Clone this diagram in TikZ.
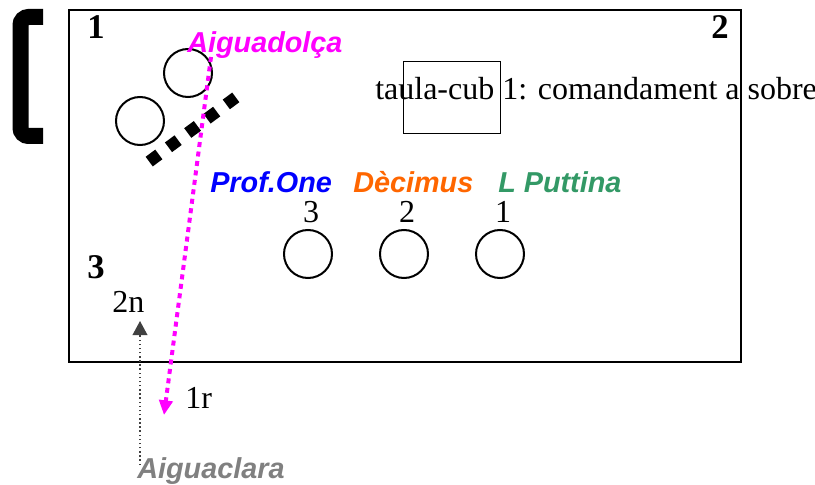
\documentclass[tikz,border=0pt]{standalone}
\usepackage{fontspec}
\setmainfont{Liberation Serif}
\newfontfamily\arialfont{Liberation Sans}
\usetikzlibrary{arrows.meta}
\definecolor{pinkname}{HTML}{FF00FF}
\definecolor{orangename}{HTML}{FF6600}
\definecolor{greenname}{HTML}{339966}
\definecolor{grayname}{HTML}{808080}
\definecolor{bluename}{HTML}{0000FF}
\definecolor{darkarrow}{HTML}{404040}
\begin{document}
\begin{tikzpicture}[x=0.75pt,y=-0.75pt,
  serif/.style={inner sep=0pt, font=\fontsize{24}{28}\selectfont, anchor=base west},
  bignum/.style={inner sep=0pt, font=\fontsize{26}{30}\selectfont\bfseries, anchor=base west},
  person/.style={inner sep=0pt, text depth=0pt, font=\arialfont\fontsize{21.6}{26}\selectfont\bfseries\itshape, anchor=base west},
  seat/.style={circle, draw, line width=1.5pt, minimum size=36pt, inner sep=0pt},
  seatnum/.style={inner sep=0pt, text height=15.5pt, font=\fontsize{24}{28}\selectfont, anchor=base},
  route/.style={pinkname, line width=3pt, dash pattern=on 3.75pt off 3.4pt, -{Triangle[length=11pt,width=10pt]}},
  route2/.style={darkarrow, line width=1.1pt, dash pattern=on 1.1pt off 2pt, -{Triangle[length=10.5pt,width=11pt]}},
]
\useasboundingbox (0,0) rectangle (815,485);
% bracket
\draw[line width=12pt, rounded corners=6pt] (43,17) -- (20.5,17) -- (20.5,136) -- (43,136);
% main frame
\node[draw, line width=1.5pt, inner sep=0pt, minimum width=504pt, minimum height=264pt, anchor=north west] (frame) at (68,9) {};
% corner numbers
\node[bignum] (n1) at (87,39) {1};
\node[bignum] (n2) at (711,39) {2};
\node[bignum] (n3) at (87,278) {3};
% table text and box
\node[draw, line width=1.1pt, inner sep=0pt, minimum width=72.75pt, minimum height=54pt, anchor=north west] (cub) at (403,61) {};
\node[serif] (taula) at (375,100) {taula-cub 1: comandament a sobre};
% upper left seats
\node[seat] (c1) at (188,73) {};
\node[seat] (c2) at (140,121) {};
\draw[line width=9pt, dash pattern=on 9pt off 9pt] (149.2,161.6) -- (235.8,97.4);
% names
\node[person, pinkname] (aiguadolca) at (187,53) {Aiguadolça};
\node[person, bluename] (profone) at (210,193) {Prof.One};
\node[person, orangename] (decimus) at (353,193) {Dècimus};
\node[person, greenname] (puttina) at (498,193) {L Puttina};
\node[person, grayname] (aiguaclara) at (137,478) {Aiguaclara};
% seats row
\node[seatnum] (l3) at (311,223) {3};
\node[seatnum] (l2) at (407,223) {2};
\node[seatnum] (l1) at (503,223) {1};
\node[seat] (s3) at (308,254) {};
\node[seat] (s2) at (404,254) {};
\node[seat] (s1) at (500,254) {};
% labels
\node[serif] (two) at (112,312) {2n};
\node[serif] (one) at (185,408) {1r};
% arrows
\coordinate (mtop) at (211,57);
\coordinate (mtip) at (164,415);
\draw[route] (mtop) -- (mtip);
\coordinate (gbot) at (140,465);
\coordinate (gtip) at (140,321);
\draw[route2] (gbot) -- (gtip);
\end{tikzpicture}
\end{document}
